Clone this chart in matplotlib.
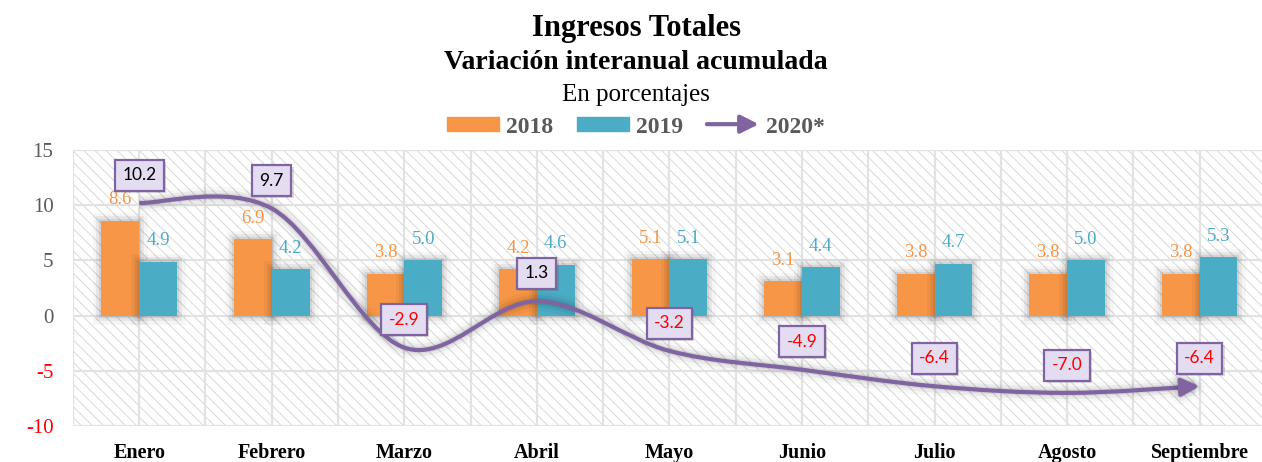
import matplotlib
matplotlib.use("Agg")
import matplotlib.pyplot as plt
import matplotlib.patheffects as pe
from matplotlib.patches import Rectangle, Patch, FancyArrowPatch
from matplotlib.path import Path
from matplotlib.legend_handler import HandlerBase
import numpy as np

meses = ["Enero", "Febrero", "Marzo", "Abril", "Mayo", "Junio",
         "Julio", "Agosto", "Septiembre"]
v2018 = [8.6, 6.9, 3.8, 4.2, 5.1, 3.1, 3.8, 3.8, 3.8]
v2019 = [4.9, 4.2, 5.0, 4.6, 5.1, 4.4, 4.7, 5.0, 5.3]
v2020 = [10.2, 9.7, -2.9, 1.3, -3.2, -4.9, -6.4, -7.0, -6.4]
yticks = [-10, -5, 0, 5, 10, 15]

naranja = "#f79646"
azul = "#4bacc6"
morado = "#8064a2"
gris = "#595959"
serif = ["Liberation Serif", "DejaVu Serif"]

plt.rcParams["hatch.linewidth"] = 0.65

fig = plt.figure(figsize=(12.62, 4.62), dpi=100)
ax = fig.add_axes([0.0578, 0.0779, 0.9453, 0.5974])
ax.patch.set_visible(False)

# fondo rayado
fondo = Rectangle((0, 0), 1, 1, transform=ax.transAxes, facecolor="white",
                  edgecolor="#d6d6d6", linewidth=0, hatch="\\\\\\", zorder=0)
ax.add_patch(fondo)

x = np.arange(len(meses))
ancho = 0.285

sombra = [pe.Stroke(linewidth=14, foreground="black", alpha=0.03),
          pe.Stroke(linewidth=9, foreground="black", alpha=0.05),
          pe.Stroke(linewidth=5, foreground="black", alpha=0.08),
          pe.Normal()]

b1 = ax.bar(x - ancho / 2, v2018, ancho, color=naranja, zorder=3)
b2 = ax.bar(x + ancho / 2, v2019, ancho, color=azul, zorder=3)
for b in list(b1) + list(b2):
    b.set_path_effects([pe.Stroke(linewidth=12, foreground="black", alpha=0.04),
                        pe.Stroke(linewidth=7, foreground="black", alpha=0.06),
                        pe.Stroke(linewidth=3, foreground="black", alpha=0.08),
                        pe.Normal()])
    b.set_linewidth(0)

for xi, v in zip(x, v2018):
    ax.annotate(f"{v:.1f}", (xi - ancho / 2, v), xytext=(0, 15),
                textcoords="offset points", ha="center", va="center",
                fontsize=13.5, color=naranja, family=serif, zorder=4)
for xi, v in zip(x, v2019):
    ax.annotate(f"{v:.1f}", (xi + ancho / 2, v), xytext=(0, 15),
                textcoords="offset points", ha="center", va="center",
                fontsize=13.5, color=azul, family=serif, zorder=4)

# linea suavizada (bezier tipo excel)
pts = np.column_stack([x, v2020]).astype(float)
verts = [pts[0]]
codes = [Path.MOVETO]
n = len(pts)
for i in range(n - 1):
    p0 = pts[max(i - 1, 0)]
    p1 = pts[i]
    p2 = pts[i + 1]
    p3 = pts[min(i + 2, n - 1)]
    verts += [p1 + (p2 - p0) / 6, p2 - (p3 - p1) / 6, p2]
    codes += [Path.CURVE4] * 3
curva = FancyArrowPatch(path=Path(verts, codes),
                        arrowstyle="-|>,head_length=0.9,head_width=0.45",
                        mutation_scale=12, color=morado, linewidth=3,
                        zorder=5, joinstyle="round", capstyle="butt")
curva.set_path_effects(sombra)
ax.add_patch(curva)

for xi, v in zip(x, v2020):
    t = ax.annotate(f"{v:.1f}", (xi, v), xytext=(0, 20),
                    textcoords="offset points", ha="center", va="center",
                    fontsize=12.5, color="black" if v > 0 else "red",
                    family=["Lato", "DejaVu Sans"], zorder=7,
                    bbox=dict(boxstyle="square,pad=0.43", facecolor="#e4dcf0",
                              edgecolor=morado, linewidth=1.6))
    t.get_bbox_patch().set_path_effects(
        [pe.SimplePatchShadow(offset=(1.5, -1.5), alpha=0.18), pe.Normal()])

ax.set_xlim(-0.5, 8.5)
ax.set_ylim(-10, 15)
ax.set_yticks(yticks)
ax.set_xticks(x)
ax.set_xticklabels(meses, family=serif, fontsize=14.5, fontweight="bold")
ax.set_yticklabels([str(t) for t in yticks], family=serif, fontsize=15)
for lab, t in zip(ax.get_yticklabels(), yticks):
    lab.set_color("red" if t < 0 else gris)
ax.tick_params(axis="both", length=0)
ax.tick_params(axis="y", pad=14)
ax.tick_params(axis="x", pad=12)
ax.set_xticks(np.arange(-0.5, 8.6, 1.0), minor=True)
ax.tick_params(axis="x", which="minor", length=0)
ax.grid(True, which="both", color="#e2e2e2", linewidth=1.6, zorder=1)
ax.set_axisbelow(True)
for s in ax.spines.values():
    s.set_visible(False)

fig.text(0.504, 0.938, "Ingresos Totales", ha="center", va="center",
         family=serif, fontsize=22, fontweight="bold")
fig.text(0.504, 0.864, "Variación interanual acumulada", ha="center",
         va="center", family=serif, fontsize=20, fontweight="bold")
fig.text(0.504, 0.795, "En porcentajes", ha="center", va="center",
         family=serif, fontsize=18)


class HandlerFlecha(HandlerBase):
    def create_artists(self, legend, orig_handle, xdescent, ydescent,
                       width, height, fontsize, trans):
        y = height / 2 - ydescent
        a = FancyArrowPatch((-xdescent, y), (-xdescent + width, y),
                            arrowstyle="-|>,head_length=0.9,head_width=0.45",
                            mutation_scale=12, color=morado, linewidth=3,
                            shrinkA=0, shrinkB=0, transform=trans)
        return [a]


flecha = Patch(color=morado)
handles = [Patch(color=naranja), Patch(color=azul), flecha]
leg = fig.legend(handles, ["2018", "2019", "2020*"], loc="center",
                 bbox_to_anchor=(0.504, 0.725), ncol=3, frameon=False,
                 prop=dict(family=serif, size=17, weight="bold"),
                 handlelength=2.2, handleheight=0.5, handletextpad=0.3,
                 columnspacing=1.0, labelcolor=gris,
                 handler_map={flecha: HandlerFlecha()})

fig.savefig("out.png", dpi=100)
